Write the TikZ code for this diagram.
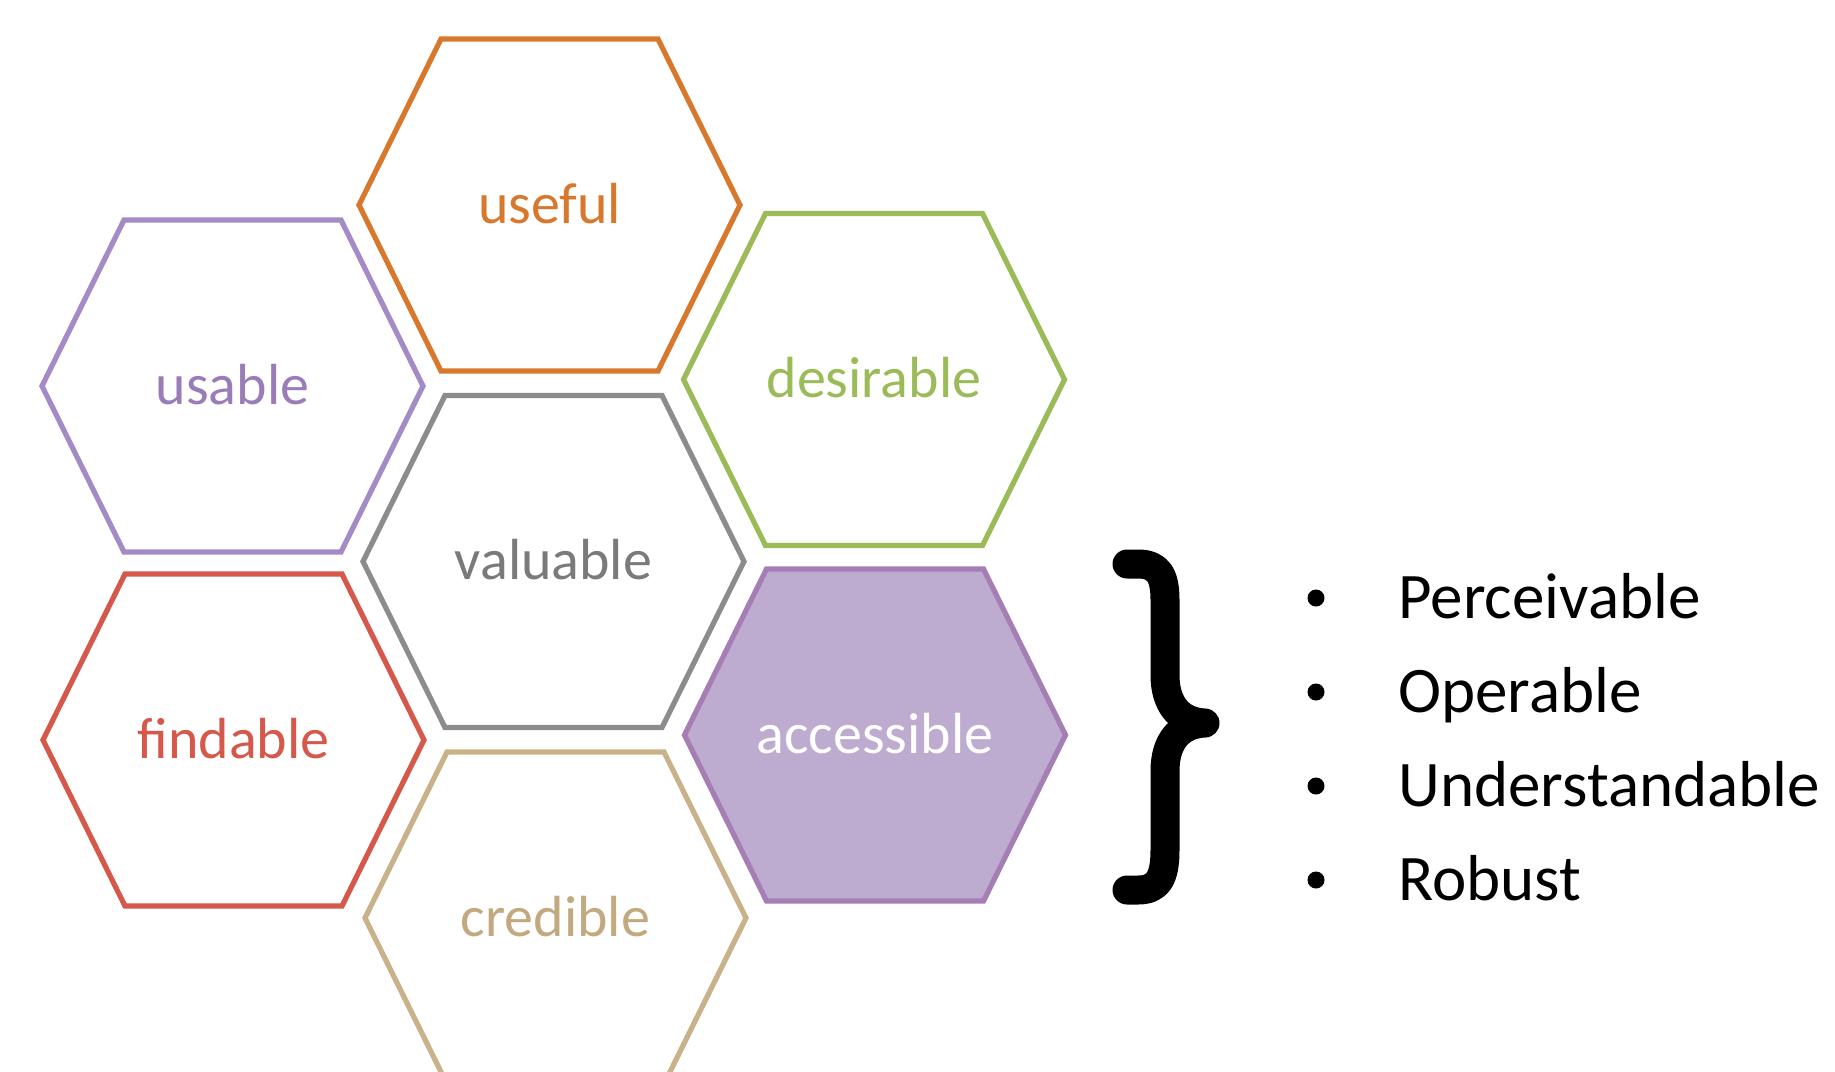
\documentclass[tikz,border=0pt]{standalone}
\usepackage{fontspec}
\setmainfont{Carlito}
\definecolor{cUseful}{HTML}{D8782C}
\definecolor{cUsable}{HTML}{A58BC5}
\definecolor{cUsableT}{HTML}{9A7DB8}
\definecolor{cDesir}{HTML}{9BBB59}
\definecolor{cValu}{HTML}{8C8C8C}
\definecolor{cValuT}{HTML}{7A7A7A}
\definecolor{cFind}{HTML}{D5584B}
\definecolor{cCred}{HTML}{C9B28A}
\definecolor{cCredT}{HTML}{C2A97F}
\definecolor{cAccF}{HTML}{BDACD0}
\definecolor{cAccB}{HTML}{A47EB4}
\begin{document}
\begin{tikzpicture}[x=0.5pt,y=-0.5pt,
  hexa/.style={line width=2.6pt, line join=miter},
  lab/.style={anchor=base, inner sep=0pt, font=\fontsize{29}{34}\selectfont},
  item/.style={anchor=base west, inner sep=0pt, font=\fontsize{32.5}{39}\selectfont},
  dot/.style={circle, fill=black, inner sep=0pt, minimum size=8.5pt}]
\useasboundingbox (0,0) rectangle (1835,1071);
\clip (0,0) rectangle (1835,1071);
\fill[white] (0,0) rectangle (1835,1071);
% hexagons
\foreach \cx/\cy/\col/\fil in {549.5/205/cUseful/white, 232.5/386/cUsable/white,
  874/379.5/cDesir/white, 553.5/561.5/cValu/white, 233.5/740/cFind/white,
  875/735/cAccB/cAccF, 555.5/918/cCred/white}
  \draw[hexa, draw=\col, fill=\fil] (\cx-190.5,\cy) -- (\cx-108.5,\cy-166) -- (\cx+108.5,\cy-166)
    -- (\cx+190.5,\cy) -- (\cx+108.5,\cy+166) -- (\cx-108.5,\cy+166) -- cycle;
% labels
\node[lab, text=cUseful] (useful) at (549.5,223) {useful};
\node[lab, text=cUsableT] (usable) at (232.5,404) {usable};
\node[lab, text=cDesir] (desirable) at (874,397.5) {desirable};
\node[lab, text=cValuT] (valuable) at (553.5,579.5) {valuable};
\node[lab, text=cFind] (findable) at (233.5,758) {findable};
\node[lab, text=white] (accessible) at (875,753) {accessible};
\node[lab, text=cCredT] (credible) at (555.5,936) {credible};
% brace
\draw[line width=14.5pt, line cap=round, line join=round]
  (1127,564) -- (1138,564) .. controls (1158,564) and (1165,575) .. (1165,600)
  -- (1165,675) .. controls (1165,705) and (1180,722) .. (1205,723)
  .. controls (1180,724) and (1165,741) .. (1165,771)
  -- (1165,850) .. controls (1165,878) and (1158,890) .. (1138,890) -- (1127,890);
% list
\node[dot] (b1) at (1316,598) {};
\node[dot] (b2) at (1316,692) {};
\node[dot] (b3) at (1316,786) {};
\node[dot] (b4) at (1316,880) {};
\node[item] (t1) at (1398,618) {Perceivable};
\node[item] (t2) at (1398,712) {Operable};
\node[item] (t3) at (1398,806) {Understandable};
\node[item] (t4) at (1398,900) {Robust};
\end{tikzpicture}
\end{document}
